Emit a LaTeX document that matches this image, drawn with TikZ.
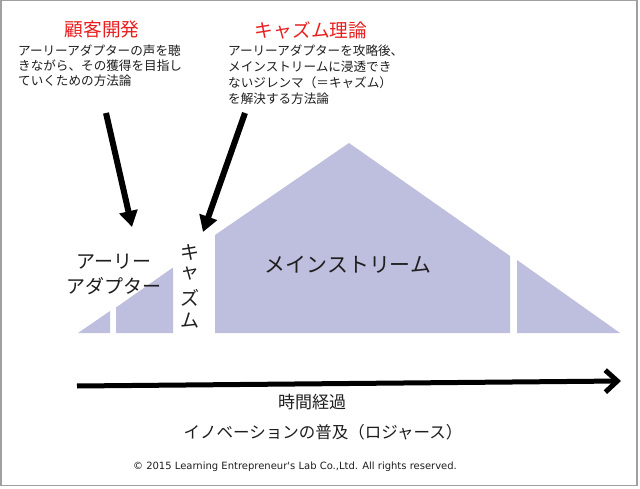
\documentclass[tikz,border=0pt]{standalone}
\usepackage{fontspec}
\setmainfont{Noto Sans CJK JP}
\newfontfamily\latinfont{DejaVu Sans}
\usetikzlibrary{arrows.meta}
\definecolor{lav}{RGB}{190,190,222}
\definecolor{ink}{RGB}{30,30,30}
\definecolor{hred}{RGB}{232,30,30}
\definecolor{frame}{RGB}{160,160,160}
\tikzset{
  head/.style={font=\fontsize{18.7}{20}\selectfont, text=hred, inner sep=0},
  body/.style={font=\fontsize{12.6}{14}\selectfont, text=ink, inner sep=0, anchor=base west},
  label/.style={font=\fontsize{19}{20}\selectfont, text=ink, inner sep=0},
  piece/.style={fill=lav, draw=none},
  pointer/.style={line width=6pt, -{Triangle[length=16pt,width=18pt]}, draw=black},
}
\begin{document}
\begin{tikzpicture}[x=1pt,y=-1pt]
\useasboundingbox (0,0) rectangle (640,489);
\draw[frame, line width=1.5pt] (0.75,0.75) rectangle (637,485.5);

% diffusion shapes
\fill[piece] (78,333) -- (110,311) -- (110,333) -- cycle;
\fill[piece] (116,333) -- (116,307.5) -- (173,267.5) -- (173,333) -- cycle;
\fill[piece] (215,333) -- (215,235) -- (349,143) -- (510,256) -- (510,333) -- cycle;
\fill[piece] (517,333) -- (517,260) -- (620,333) -- cycle;

% headings
\node[head] (h1) at (102,29) {顧客開発};
\node[head] (h2) at (311,30) {キャズム理論};

\node[body] (l1) at (18,56) {アーリーアダプターの声を聴};
\node[body] (l2) at (18,71) {きながら、その獲得を目指し};
\node[body] (l3) at (18,86) {ていくための方法論};

\node[body] (r1) at (228,56) {アーリーアダプターを攻略後、};
\node[body] (r2) at (228,72) {メインストリームに浸透でき};
\node[body] (r3) at (228,88) {ないジレンマ（＝キャズム）};
\node[body] (r4) at (228,104) {を解決する方法論};

% pointers
\coordinate (a1s) at (106,113);
\coordinate (a1e) at (132,227);
\coordinate (a2s) at (245,113);
\coordinate (a2e) at (203,232);
\draw[pointer] (a1s) -- (a1e);
\draw[pointer] (a2s) -- (a2e);

% labels
\node[label] (ea1) at (114,262) {アーリー};
\node[label] (ea2) at (114,286) {アダプター};
\node[label] (c1) at (190,252) {キ};
\node[label] (c2) at (190,274) {ャ};
\node[label] (c3) at (190,298) {ズ};
\node[label] (c4) at (190,321) {ム};
\node[label, font=\fontsize{20.9}{22}\selectfont] (ms) at (348,265) {メインストリーム};

% time axis
\coordinate (t0) at (77,386);
\coordinate (t1) at (621,381);
\draw[line width=5pt, -{Straight Barb[length=12pt,width=22pt]}] (t0) -- (t1);

\node[label, font=\fontsize{17}{18}\selectfont] (time) at (312,402) {時間経過};
\node[label, font=\fontsize{16.5}{18}\selectfont] (rog) at (323,432) {イノベーションの普及（ロジャース）};
\node[inner sep=0, text=ink, font=\latinfont\fontsize{10}{12}\selectfont] (copy) at (295,467) {© 2015 Learning Entrepreneur's Lab Co.,Ltd. All rights reserved.};
\end{tikzpicture}
\end{document}
